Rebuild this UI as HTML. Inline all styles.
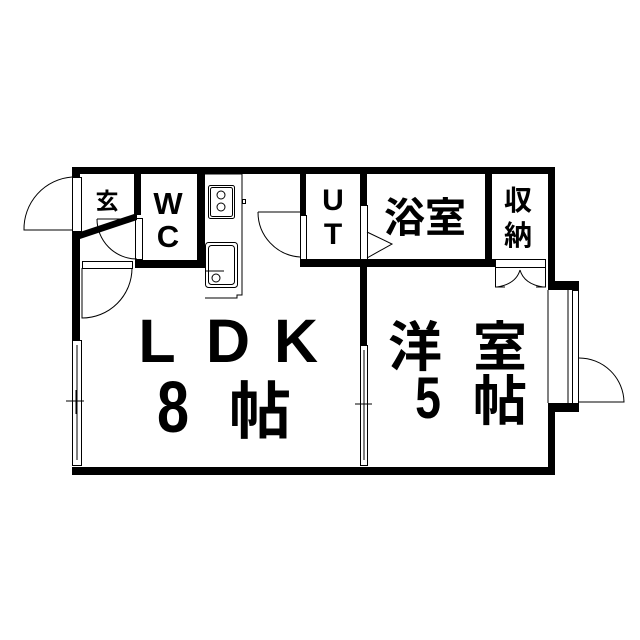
<!DOCTYPE html>
<html><head><meta charset="utf-8"><style>
html,body{margin:0;padding:0;background:#fff;}
svg{display:block}
text{font-family:"Liberation Sans","Noto Sans CJK JP",sans-serif;fill:#000}
.b{font-weight:bold}
</style></head><body>
<svg width="640" height="640" viewBox="0 0 640 640" xmlns="http://www.w3.org/2000/svg">
<rect width="640" height="640" fill="#fff"/>
<g fill="#000">
<rect x="72" y="167" width="483" height="7"/>
<rect x="72" y="167" width="8" height="10"/>
<rect x="72" y="232" width="8" height="108"/>
<rect x="72" y="467" width="483" height="8"/>
<rect x="548" y="167" width="7" height="123"/>
<rect x="548" y="281" width="31" height="9"/>
<rect x="548" y="403" width="31" height="9"/>
<rect x="548" y="403" width="7" height="72"/>
<rect x="134" y="167" width="7" height="48"/>
<polygon points="80,232 137,213 137,220 80,239"/>
<rect x="135" y="260" width="70" height="8"/>
<rect x="197" y="167" width="8" height="101"/>
<rect x="300" y="167" width="6" height="48"/>
<rect x="300" y="259" width="195" height="8"/>
<rect x="360" y="167" width="7" height="38"/>
<rect x="360" y="267" width="7" height="78"/>
<rect x="485" y="167" width="7" height="100"/>
</g>
<g fill="none" stroke="#000" stroke-width="1">
<rect x="72.5" y="177.5" width="9" height="54"/>
<path d="M72 177 A52 52 0 0 0 24 230 L72 230"/>
<rect x="135.5" y="218.5" width="7" height="41"/>
<path d="M97 219 L135 219 M97 219 A40 40 0 0 0 137 259"/>
<rect x="82.5" y="261.5" width="50" height="7"/>
<path d="M132 268 A50 50 0 0 1 82 318 L82 268"/>
<rect x="72.5" y="340.5" width="9" height="125"/>
<line x1="77" y1="345" x2="77" y2="460"/>
<line x1="66" y1="401" x2="84" y2="401"/>
<line x1="76" y1="390" x2="76" y2="414"/>
<path d="M205 174 L242 174 L242 295 L237 295 L237 298 L205 298"/>
<rect x="208.5" y="185.5" width="26" height="33" rx="2"/>
<rect x="210.5" y="187.5" width="22" height="29" rx="2"/>
<circle cx="221" cy="195" r="4"/>
<circle cx="221" cy="207" r="4"/>
<rect x="242.5" y="199.5" width="3" height="4"/>
<rect x="205.5" y="242.5" width="32" height="45" rx="3"/>
<rect x="208.5" y="245.5" width="26" height="39" rx="3"/>
<circle cx="216" cy="278" r="4"/>
<line x1="205" y1="271" x2="224" y2="271"/>
<rect x="300.5" y="215.5" width="6" height="44"/>
<path d="M258 212 L300 212 M258 212 A45 45 0 0 0 300 257"/>
<rect x="360.5" y="205.5" width="7" height="54"/>
<path d="M367 232 L392 244 L367 258"/>
<rect x="495.5" y="259.5" width="50" height="8"/>
<path d="M495.5 267 L495.5 287 L505 287 M545.5 267 L545.5 287 L536 287"/>
<path d="M520 270 Q516 284 497 287 M520 270 Q524 284 543 287"/>
<rect x="360.5" y="345.5" width="7" height="120"/>
<line x1="364" y1="350" x2="364" y2="460"/>
<line x1="355" y1="404" x2="372" y2="404"/>
<line x1="364" y1="395" x2="364" y2="410"/>
<line x1="548" y1="290" x2="548" y2="403"/>
<rect x="572.5" y="290.5" width="6" height="113"/>
<line x1="568" y1="290" x2="568" y2="403"/>
<path d="M579 358 A45 45 0 0 1 624 402 L579 402"/>
</g>
<text x="107" y="209" font-size="23" class="b" text-anchor="middle">玄</text>
<text x="168" y="214" font-size="31" class="b" text-anchor="middle">W</text>
<text x="168" y="247" font-size="31" class="b" text-anchor="middle">C</text>
<text x="333" y="210" font-size="30" class="b" text-anchor="middle">U</text>
<text x="333" y="244" font-size="30" class="b" text-anchor="middle">T</text>
<text x="425" y="232" font-size="41" class="b" text-anchor="middle">浴室</text>
<text x="518" y="210" font-size="28" class="b" text-anchor="middle">収</text>
<text x="518" y="245" font-size="28" class="b" text-anchor="middle">納</text>
<text x="157" y="362" font-size="61" class="b" text-anchor="middle">L</text>
<text x="228" y="362" font-size="61" class="b" text-anchor="middle">D</text>
<text x="296" y="362" font-size="61" class="b" text-anchor="middle">K</text>
<text transform="translate(173,432) scale(0.8,1)" font-size="72" class="b" text-anchor="middle">8</text>
<text x="260" y="433" font-size="62" class="b" text-anchor="middle">帖</text>
<text x="415" y="366" font-size="54" class="b" text-anchor="middle">洋</text>
<text x="500" y="366" font-size="54" class="b" text-anchor="middle">室</text>
<text transform="translate(428,418) scale(0.8,1)" font-size="58" class="b" text-anchor="middle">5</text>
<text x="500" y="420" font-size="54" class="b" text-anchor="middle">帖</text>
</svg>
</body></html>
